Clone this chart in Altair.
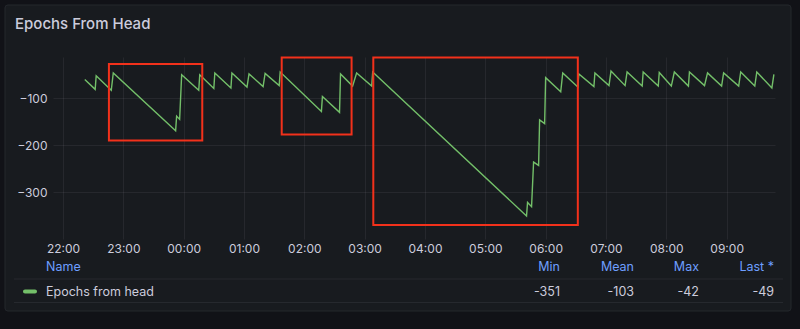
import altair as alt
import pandas as pd

# ---- data ----
times = ["22:21:40", "22:32", "22:33", "22:48", "22:50", "23:52", "23:53", "23:56", "23:58",
         "00:15", "00:16", "00:30", "00:31", "00:47", "00:48", "01:03", "01:05", "01:19", "01:21",
         "01:35", "01:36", "02:17", "02:18", "02:35", "02:36", "02:48", "02:52", "03:07", "03:08",
         "05:41", "05:42", "05:46", "05:48", "05:53", "05:54", "05:59", "06:00", "06:15", "06:17",
         "06:32", "06:33", "06:48", "06:49", "07:03", "07:05", "07:19", "07:21", "07:36", "07:37",
         "07:52", "07:53", "08:05", "08:08", "08:22", "08:23", "08:38", "08:41", "08:55", "08:57",
         "09:12", "09:14", "09:28", "09:30", "09:45", "09:47"]
values = [-60, -81, -52, -83, -46, -169, -138, -145, -50,
          -83, -50, -79, -46, -78, -46, -76, -48, -75, -47,
          -73, -44, -128, -96, -130, -48, -74, -46, -74, -44,
          -351, -322, -331, -236, -243, -146, -154, -56, -86, -46,
          -76, -48, -75, -46, -73, -42, -73, -44, -74, -44,
          -74, -45, -74, -44, -74, -44, -73, -46, -74, -46,
          -74, -44, -74, -44, -78, -49]

tick_labels = ["22:00", "23:00", "00:00", "01:00", "02:00", "03:00",
               "04:00", "05:00", "06:00", "07:00", "08:00", "09:00"]
y_ticks = [-100, -200, -300]
x_range = ["21:50:03", "09:48:06"]
y_range = [-400, -12]

title_text = "Epochs From Head"
legend_headers = ["Name", "Min", "Mean", "Max", "Last *"]
series_name = "Epochs from head"
stats = ["-351", "-103", "-42", "-49"]

box_start = ["22:45:40", "01:37:30", "03:08:36"]
box_end = ["00:18:30", "02:47:00", "06:32:00"]
box_top = [-27, -13, -13]
box_bottom = [-190, -177, -370]


def stamp(hms):
    parts = hms.split(":")
    if len(parts) == 2:
        hms = hms + ":00"
    day = "2023-01-01" if int(parts[0]) >= 12 else "2023-01-02"
    return f"{day}T{hms}Z"


def ms(hms):
    return int(pd.Timestamp(stamp(hms)).value // 10**6)


df = pd.DataFrame({"t": [stamp(t) for t in times], "v": values})
dfb = pd.DataFrame({"s": [stamp(t) for t in box_start], "e": [stamp(t) for t in box_end],
                    "top": box_top, "bot": box_bottom})

FONT = "Inter"
TXT = "#ccccdc"
BLUE = "#6e9fff"
GREEN = "#73bf69"
OUTER = "#111217"

xscale = alt.Scale(type="utc", domain=[ms(x_range[0]), ms(x_range[1])])
yscale = alt.Scale(domain=y_range, nice=False, zero=False)

one = pd.DataFrame({"a": [0]})

line = alt.Chart(df).mark_line(color=GREEN, strokeWidth=1.4).encode(
    x=alt.X("t:T", scale=xscale, title=None,
            axis=alt.Axis(values=[ms(t) for t in tick_labels],
                          labelExpr="utcFormat(datum.value, '%H:%M')",
                          labelPadding=4, labelBaseline="top", labelAlign="center")),
    y=alt.Y("v:Q", scale=yscale, title=None,
            axis=alt.Axis(values=y_ticks, labelPadding=6)))

boxes = alt.Chart(dfb).mark_rect(fillOpacity=0, stroke="#f2311b", strokeWidth=2).encode(
    x=alt.X("s:T", title=None), x2="e:T",
    y=alt.Y("top:Q", title=None), y2="bot:Q")

layers = [line, boxes]

# outer dark frame around the panel (background of chart = panel colour)
for (xa, xb, ya, yb) in [(-53, -48, -57, 272), (738, 747, -57, 272),
                         (-53, 747, -57, -52), (-53, 747, 254, 272)]:
    layers.append(alt.Chart(one).mark_rect(fill=OUTER).encode(
        x=alt.value(xa), x2=alt.value(xb), y=alt.value(ya), y2=alt.value(yb)))
layers.append(alt.Chart(one).mark_rect(fillOpacity=0, stroke="#25282d", strokeWidth=1,
                                       cornerRadius=3).encode(
    x=alt.value(-48), x2=alt.value(738), y=alt.value(-52), y2=alt.value(254)))

# title
layers.append(alt.Chart(one).mark_text(text=title_text, align="left", baseline="alphabetic",
                                       font=FONT, fontSize=15, fontWeight=500, color=TXT).encode(
    x=alt.value(-38), y=alt.value(-28)))

# legend table
header_x = [-7, 507, 581, 646, 721]
for i, h in enumerate(legend_headers):
    layers.append(alt.Chart(one).mark_text(text=h, align="left" if i == 0 else "right",
                                           baseline="middle", font=FONT, fontSize=12.5,
                                           color=BLUE).encode(
        x=alt.value(header_x[i]), y=alt.value(210)))

layers.append(alt.Chart(one).mark_text(text=series_name, align="left", baseline="middle",
                                       font=FONT, fontSize=12.5, color=TXT).encode(
    x=alt.value(-7), y=alt.value(234.5)))
for i, s in enumerate(stats):
    layers.append(alt.Chart(one).mark_text(text=s, align="right", baseline="middle",
                                           font=FONT, fontSize=12.5, color=TXT).encode(
        x=alt.value(header_x[i + 1]), y=alt.value(234.5)))

layers.append(alt.Chart(one).mark_rect(fill=GREEN, cornerRadius=2).encode(
    x=alt.value(-30), x2=alt.value(-16), y=alt.value(232.5), y2=alt.value(236.5)))

for yy in [222, 245.5]:
    layers.append(alt.Chart(one).mark_rule(color="#26292e", strokeWidth=1).encode(
        x=alt.value(-39), x2=alt.value(730), y=alt.value(yy)))

chart = alt.layer(*layers).properties(
    width=722, height=182, autosize="none",
    padding={"left": 53, "top": 57, "right": 25, "bottom": 90},
    background="#181b1f",
).configure_view(stroke=None).configure_axis(
    labelColor=TXT, labelFont=FONT, labelFontSize=12, domain=False, ticks=False,
    gridColor="#ccccdc", gridOpacity=0.08,
)

chart.save("out.html", embed_options={"renderer": "svg", "actions": False})
